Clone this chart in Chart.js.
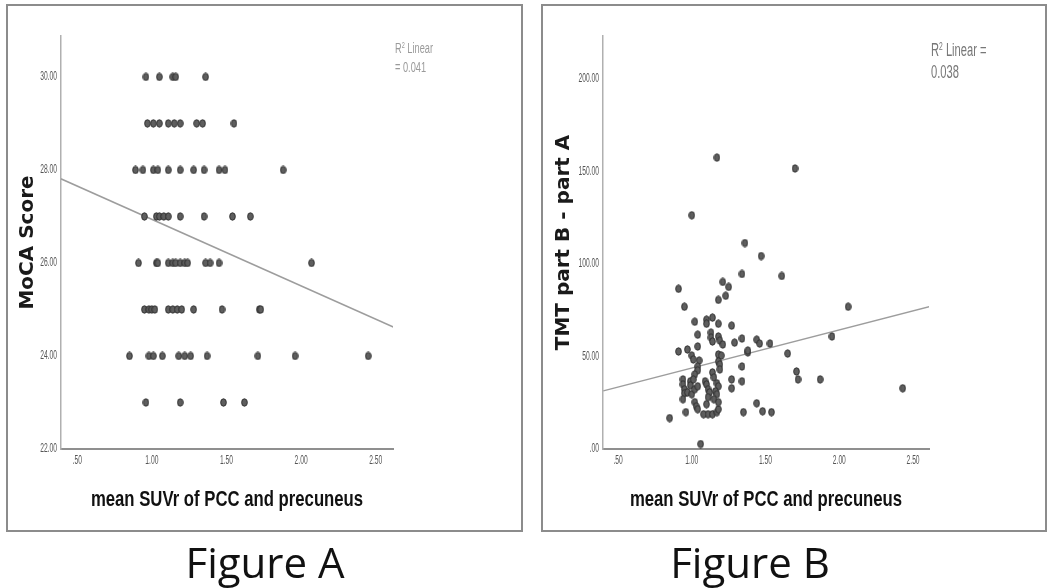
<!DOCTYPE html>
<html>
<head>
<meta charset="utf-8">
<script src="https://cdn.jsdelivr.net/npm/chart.js@4.4.1/dist/chart.umd.min.js"></script>
<style>
  body { margin: 0; background: #fff; width: 1049px; height: 588px; position: relative; overflow: hidden; }
  canvas { position: absolute; top: 0; }
  #chartA { left: 0; }
  #chartB { left: 530px; }
  .frame { position: absolute; top: 4px; height: 524px; border: 2px solid #8c8c8c; pointer-events: none; }
  #frameA { left: 6px; width: 513px; }
  #frameB { left: 541px; width: 502px; }
  .r2 { position: absolute; font-family: 'Liberation Sans', Arial, sans-serif; white-space: nowrap; line-height: 1; transform-origin: left top; }
  .r2 sup { font-size: 60%; vertical-align: 0.6em; line-height: 0; }
  .caption { position: absolute; top: 541px; width: 300px; text-align: center; font-family: 'Open Sans', sans-serif; font-size: 42px; line-height: 42px; color: #111; }
</style>
</head>
<body>
<canvas id="chartA" width="530" height="540"></canvas>
<canvas id="chartB" width="519" height="540"></canvas>
<div class="frame" id="frameA"></div>
<div class="frame" id="frameB"></div>
<div class="r2" style="left:395px; top:41px; font-size:14px; color:#9a9a9a; transform:scaleX(0.66);">R<sup>2</sup> Linear</div>
<div class="r2" id="r2A" style="left:395px; top:60px; font-size:14px; color:#9a9a9a; transform:scaleX(0.66);"></div>
<div class="r2" style="left:931px; top:41px; font-size:18px; color:#777; transform:scaleX(0.62);">R<sup>2</sup> Linear =</div>
<div class="r2" id="r2B" style="left:931px; top:63px; font-size:18px; color:#777; transform:scaleX(0.62);"></div>
<div class="caption" style="left:115px;">Figure A</div>
<div class="caption" style="left:600px;">Figure B</div>
<script>
// Figure A: mean SUVr vs MoCA score
const suvrA = [
    0.96, 1.05, 1.14, 1.16, 1.36,
    0.97, 1.01, 1.05, 1.11, 1.15, 1.19, 1.30, 1.34, 1.55,
    0.89, 0.94, 1.01, 1.04, 1.11, 1.19, 1.28, 1.35, 1.45, 1.49, 1.88,
    0.95, 1.03, 1.05, 1.08, 1.11, 1.19, 1.35, 1.54, 1.66,
    0.91, 1.03, 1.04, 1.11, 1.14, 1.16, 1.19, 1.22, 1.24, 1.36, 1.39, 1.45, 2.07,
    0.95, 0.98, 1.00, 1.02, 1.11, 1.14, 1.17, 1.20, 1.28, 1.47, 1.72, 1.73,
    0.85, 0.98, 1.01, 1.07, 1.18, 1.22, 1.26, 1.37, 1.71, 1.96, 2.45,
    0.96, 1.19, 1.48, 1.62
];
const mocaA = [
    30, 30, 30, 30, 30,
    29, 29, 29, 29, 29, 29, 29, 29, 29,
    28, 28, 28, 28, 28, 28, 28, 28, 28, 28, 28,
    27, 27, 27, 27, 27, 27, 27, 27, 27,
    26, 26, 26, 26, 26, 26, 26, 26, 26, 26, 26, 26, 26,
    25, 25, 25, 25, 25, 25, 25, 25, 25, 25, 25, 25,
    24, 24, 24, 24, 24, 24, 24, 24, 24, 24, 24,
    23, 23, 23, 23
];

// Figure B: mean SUVr vs TMT part B - part A
const suvrB = [
    1.17, 1.70, 1.00, 1.36, 1.47, 1.34, 1.61, 0.91, 1.21, 1.25, 1.18, 1.23, 0.95, 2.06,
    1.02, 1.10, 1.10, 1.14, 1.18, 1.27, 1.04, 1.13, 1.13, 1.14, 1.18, 1.19, 1.21, 1.29,
    1.34, 1.44, 1.46, 1.53, 1.95, 0.91, 0.97, 1.04, 1.00, 1.01, 1.05, 1.04, 1.04, 1.02,
    1.18, 1.20, 1.18, 1.19, 1.19, 1.38, 1.38, 1.65, 1.34, 1.71, 1.72, 1.87, 2.43, 1.27,
    1.27, 1.34, 0.94, 0.94, 0.95, 0.95, 0.94, 0.99, 0.99, 0.97, 1.00, 1.02, 1.04, 1.01,
    1.09, 1.10, 1.11, 1.14, 1.15, 1.17, 1.18, 1.16, 1.12, 1.11, 1.17, 1.15, 1.10, 1.02,
    1.03, 0.96, 1.04, 1.08, 1.11, 1.14, 1.17, 1.18, 1.18, 0.85, 1.06, 1.44, 1.48, 1.54,
    1.35
];
const tmtB = [
    157.5, 151.6, 126.3, 111.3, 104.3, 94.6, 93.5, 86.6, 90.3, 87.6, 80.6, 82.8, 76.9, 76.9,
    68.8, 69.9, 67.7, 71.0, 67.7, 66.7, 61.8, 62.9, 60.2, 58.1, 60.8, 58.6, 56.5, 57.5,
    59.7, 59.1, 57.0, 57.0, 60.8, 52.7, 53.8, 55.4, 50.5, 48.4, 47.8, 44.6, 42.5, 40.3,
    51.1, 50.5, 47.3, 45.7, 43.0, 52.2, 53.2, 51.6, 44.6, 41.9, 37.6, 37.6, 32.8, 37.6,
    32.8, 36.6, 37.6, 34.9, 32.3, 30.1, 26.9, 36.6, 34.4, 30.6, 29.6, 32.3, 33.9, 37.6,
    36.6, 34.9, 32.3, 41.4, 38.7, 35.5, 33.9, 31.2, 30.6, 28.0, 29.6, 26.9, 24.2, 25.3,
    23.1, 19.9, 21.5, 18.8, 18.8, 18.8, 19.9, 21.5, 25.3, 16.7, 2.7, 24.7, 20.4, 19.9,
    19.9
];

// axis ticks
const xTicks = [0.5, 1, 1.5, 2, 2.5];
const xTickLabels = ['.50', '1.00', '1.50', '2.00', '2.50'];
const mocaTicks = [22, 24, 26, 28, 30];
const mocaTickLabels = ['22.00', '24.00', '26.00', '28.00', '30.00'];
const tmtTicks = [0, 50, 100, 150, 200];
const tmtTickLabels = ['.00', '50.00', '100.00', '150.00', '200.00'];
const xTitle = 'mean SUVr of PCC and precuneus';

// fit line end points and R squared
const fitAx = [0.39, 2.62];
const fitAy = [27.81, 24.62];
const fitBx = [0.40, 2.61];
const fitBy = [31.4, 76.9];
const r2A = '0.041';
const r2B = '0.038';

const wideBold = "'DejaVu Sans', sans-serif";

document.getElementById('r2A').textContent = '= ' + r2A;
document.getElementById('r2B').textContent = r2B;

function makeDot() {
    const c = document.createElement('canvas');
    c.width = 7;
    c.height = 9;
    const g = c.getContext('2d');
    g.beginPath();
    g.ellipse(3.5, 4.5, 2.8, 3.7, 0, 0, Math.PI * 2);
    g.fillStyle = '#5e5e5e';
    g.fill();
    g.lineWidth = 1;
    g.strokeStyle = '#303030';
    g.stroke();
    return c;
}

const dot = makeDot();

function toPoints(xs, ys) {
    return xs.map((x, i) => ({ x, y: ys[i] }));
}

// SPSS uses a condensed face; squeeze the text horizontally
function squeezedText(ctx, text, px, py, sx, align) {
    ctx.save();
    ctx.translate(px, py);
    ctx.scale(sx, 1);
    ctx.textAlign = align;
    ctx.fillText(text, 0, 0);
    ctx.restore();
}

const narrowLabels = {
    id: 'narrowLabels',
    afterDraw(chart) {
        const { ctx, chartArea, scales: { x, y } } = chart;
        const cfg = chart.options.plugins.narrowLabels;
        ctx.save();
        ctx.textBaseline = 'middle';
        ctx.fillStyle = '#555';
        ctx.font = "12px 'Liberation Sans', Arial, sans-serif";
        xTicks.forEach((v, i) => {
            squeezedText(ctx, xTickLabels[i], x.getPixelForValue(v), chartArea.bottom + 12, 0.56, 'center');
        });
        cfg.yTicks.forEach((v, i) => {
            squeezedText(ctx, cfg.yTickLabels[i], chartArea.left - 4, y.getPixelForValue(v), 0.56, 'right');
        });
        ctx.fillStyle = '#111';
        ctx.font = "bold 22px 'Liberation Sans', Arial, sans-serif";
        squeezedText(ctx, xTitle, (chartArea.left + chartArea.right) / 2, 500, 0.76, 'center');
        ctx.restore();
    }
};

function createPanel(canvasId, cfg) {
    const ctx = document.getElementById(canvasId).getContext('2d');
    return new Chart(ctx, {
        type: 'scatter',
        plugins: [narrowLabels],
        data: {
            datasets: [{
                data: toPoints(cfg.xs, cfg.ys),
                pointStyle: dot,
                pointRadius: 3,
                order: 1
            }, {
                data: toPoints(cfg.fitX, cfg.fitY),
                showLine: true,
                pointRadius: 0,
                borderColor: '#9d9d9d',
                borderWidth: 1.5,
                order: 2
            }]
        },
        options: {
            responsive: false,
            animation: false,
            devicePixelRatio: 1,
            layout: { padding: { left: 0, top: 36, right: cfg.padRight, bottom: 0 } },
            plugins: {
                legend: { display: false },
                tooltip: { enabled: false },
                narrowLabels: { yTicks: cfg.yTicks, yTickLabels: cfg.yTickLabels }
            },
            scales: {
                x: {
                    type: 'linear',
                    min: cfg.xMin,
                    max: cfg.xMax,
                    grid: { display: false, drawTicks: false },
                    border: { display: true, color: '#8f8f8f', width: 2 },
                    afterFit: scale => { scale.height = 91; },
                    ticks: { display: false }
                },
                y: {
                    type: 'linear',
                    min: cfg.yMin,
                    max: cfg.yMax,
                    grid: { display: false, drawTicks: false },
                    border: { display: true, color: '#b0b0b0', width: 1.5 },
                    afterFit: scale => { scale.width = cfg.yWidth; },
                    ticks: { display: false },
                    title: {
                        display: true,
                        text: cfg.yTitle,
                        color: '#1a1a1a',
                        font: { family: wideBold, size: 20, weight: 'bold' },
                        padding: { top: cfg.yTitlePad, bottom: 0 }
                    }
                }
            }
        }
    });
}

createPanel('chartA', {
    xs: suvrA, ys: mocaA, fitX: fitAx, fitY: fitAy,
    xMin: 0.391, xMax: 2.616, yMin: 22, yMax: 30.88,
    yTicks: mocaTicks, yTickLabels: mocaTickLabels,
    yTitle: 'MoCA Score', yTitlePad: 16,
    yWidth: 61, padRight: 137
});

createPanel('chartB', {
    xs: suvrB, ys: tmtB, fitX: fitBx, fitY: fitBy,
    xMin: 0.398, xMax: 2.608, yMin: 0, yMax: 223.2,
    yTicks: tmtTicks, yTickLabels: tmtTickLabels,
    yTitle: 'TMT part B - part A', yTitlePad: 22,
    yWidth: 73, padRight: 120
});
</script>
</body>
</html>
